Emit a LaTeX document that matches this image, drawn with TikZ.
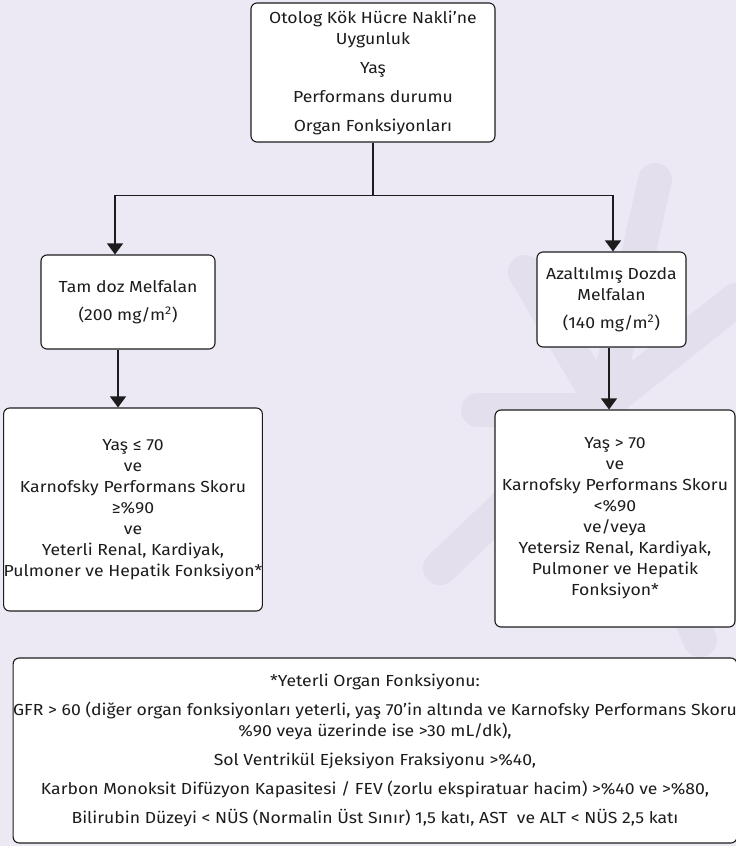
\documentclass[tikz,border=0pt]{standalone}
\usepackage{fontspec}
\setmainfont[FakeStretch=1.1]{Fira Sans}
\usetikzlibrary{arrows.meta,calc}
\definecolor{bg}{RGB}{237,233,244}
\definecolor{wm}{RGB}{227,223,237}
\definecolor{ink}{RGB}{28,28,28}
\begin{document}
\begin{tikzpicture}[x=1pt,y=-1pt,
  box/.style={draw=ink, line width=1.1pt, fill=white, rounded corners=6pt,
    inner sep=0pt, align=center, text=ink, font=\fontsize{16}{21}\selectfont},
  link/.style={draw=ink, line width=1.1pt},
  arr/.style={link, -{Triangle[width=16pt,length=11pt]}},
  arm/.style={draw=wm, line width=34pt, line cap=round}]

% page background
\fill[bg] (0,0) rectangle (736,846);
\useasboundingbox (0,0) rectangle (736,846);

% faint emblem behind the right-hand column
\path[arm] (600,400) -- (525,272);
\path[arm] (605,400) -- (655,180);
\path[arm] (610,400) -- (736,300);
\path[arm] (600,410) -- (478,410);
\path[arm] (595,420) -- (440,568);
\path[arm] (610,430) -- (700,640);

% boxes
\node[box, minimum width=244pt, minimum height=139pt] (top) at (373,72.5)
  {Otolog Kök Hücre Nakli’ne\\Uygunluk\\[8pt]Yaş\\[8pt]Performans durumu\\[8pt]Organ Fonksiyonları};
\node[box, minimum width=174pt, minimum height=94pt] (full) at (128,302)
  {Tam doz Melfalan\\[7pt](200 mg/m\textsuperscript{2})};
\node[box, minimum width=149pt, minimum height=95pt] (red) at (611.5,299.5)
  {Azaltılmış Dozda\\Melfalan\\[7pt](140 mg/m\textsuperscript{2})};
\node[box, minimum width=256pt, minimum height=203pt] (fullc) at (133,509.5)
  {Yaş ≤ 70\\ve\\Karnofsky Performans Skoru\\≥\%90\\ve\\Yeterli Renal, Kardiyak,\\Pulmoner ve Hepatik Fonksiyon*};
\node[box, minimum width=240pt, minimum height=217pt] (redc) at (615,518.5)
  {Yaş > 70\\ve\\Karnofsky Performans Skoru\\<\%90\\ve/veya\\Yetersiz Renal, Kardiyak,\\Pulmoner ve Hepatik\\Fonksiyon*};
\node[box, minimum width=720pt, minimum height=185pt] (note) at (375,750.5)
  {*Yeterli Organ Fonksiyonu:\\[8pt]
   GFR > 60 (diğer organ fonksiyonları yeterli, yaş 70’in altında ve Karnofsky Performans Skoru\\
   \%90 veya üzerinde ise >30 mL/dk),\\[8pt]
   Sol Ventrikül Ejeksiyon Fraksiyonu >\%40,\\[8pt]
   Karbon Monoksit Difüzyon Kapasitesi / FEV (zorlu ekspiratuar hacim) >\%40 ve >\%80,\\[8pt]
   Bilirubin Düzeyi < NÜS (Normalin Üst Sınır) 1,5 katı, AST\ \ ve ALT < NÜS 2,5 katı};

% connectors
\coordinate (split) at ($(top.south)+(0,53)$);
\coordinate (lx) at (115,0);
\coordinate (rx) at (613,0);
\draw[link] (top.south) -- (split);
\draw[arr] (split) -| (full.north -| lx);
\draw[arr] (split) -| (red.north -| rx);
\coordinate (lx2) at (118,0);
\coordinate (rx2) at (609,0);
\draw[arr] (full.south -| lx2) -- (fullc.north -| lx2);
\draw[arr] (red.south -| rx2) -- (redc.north -| rx2);
\end{tikzpicture}
\end{document}
